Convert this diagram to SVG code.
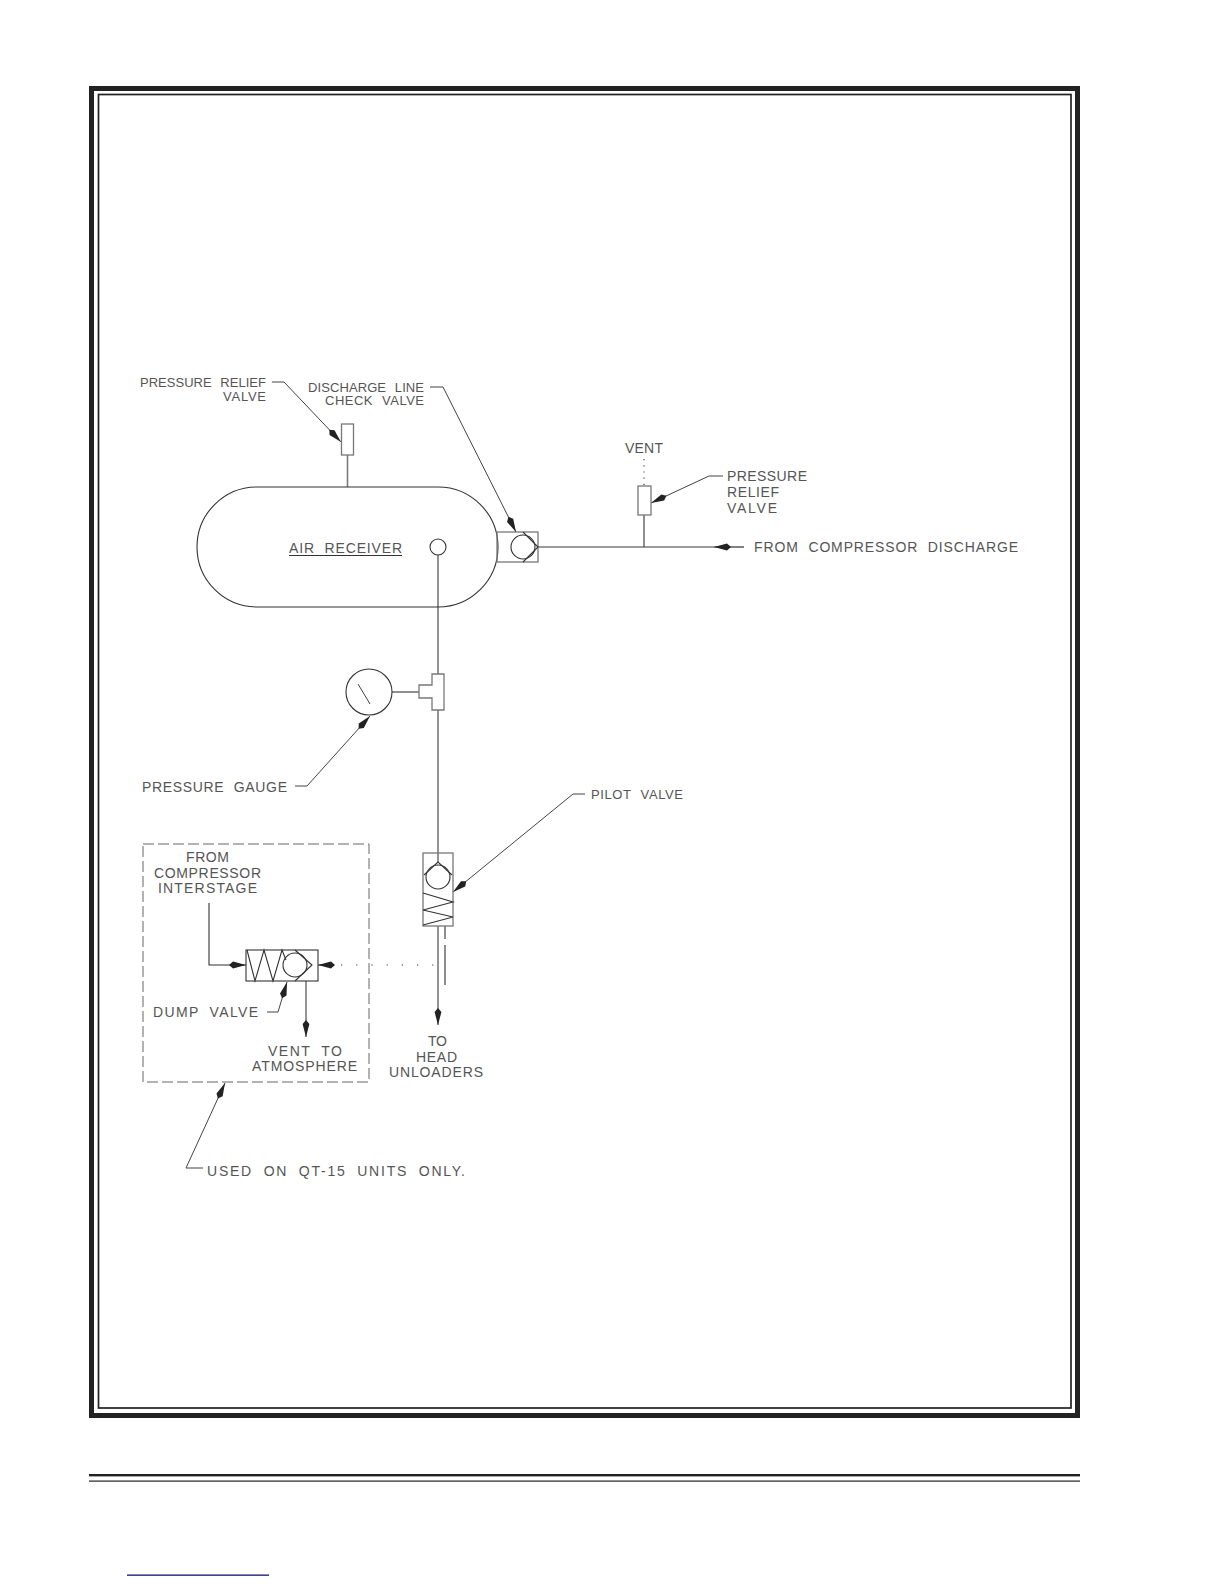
<svg xmlns="http://www.w3.org/2000/svg" width="1224" height="1584" viewBox="0 0 1224 1584">
<defs>
<marker id="arrow" markerUnits="userSpaceOnUse" markerWidth="20" markerHeight="12" refX="18" refY="6" orient="auto"><path d="M1,6 L5,2.6 L18,6 L5,9.4 Z" fill="#222"/></marker>
</defs>
<style>
text{font-family:"Liberation Sans",Arial,sans-serif;font-size:14px;fill:#555;font-weight:400;word-spacing:5px}
.s{font-size:13px}
.n{fill:none;stroke:#333;stroke-width:1.1}
.p{fill:none;stroke:#7a7a7a;stroke-width:1.6}
.v{fill:none;stroke:#777;stroke-width:1.3}
.l{fill:none;stroke:#444;stroke-width:1}
</style>
<rect width="1224" height="1584" fill="#fff"/>
<g id="frame">
<rect x="91.5" y="88.5" width="986" height="1327" fill="none" stroke="#222" stroke-width="5"/>
<rect x="98.5" y="94.5" width="972.5" height="1313.5" fill="none" stroke="#222" stroke-width="1.7"/>
<rect x="89" y="1474" width="991" height="2.4" fill="#222"/>
<rect x="89" y="1480.5" width="991" height="1.2" fill="#222"/>
<rect x="127" y="1574.5" width="142" height="1.3" fill="#12127a"/>
</g>
<g id="connectors">
<path class="p" d="M347.5,455V487"/>
<path class="p" d="M438,555V674M438,710V862M438,926V1025" marker-end="url(#arrow)"/>
<path class="p" d="M744,547H538"/>
<path class="p" d="M744,547H714" marker-end="url(#arrow)"/>
<path class="n" d="M644,515V547"/>
<path class="n" stroke-dasharray="1.2 5" d="M644,459V485"/>
<path class="n" d="M392,692H419"/>
<path class="n" d="M445,926V939M445,945V985"/>
<path class="n" d="M209,903V965H246" marker-end="url(#arrow)"/>
<path class="n" d="M333,965H318" marker-end="url(#arrow)"/>
<path class="n" stroke-dasharray="1.2 14" d="M341,965H438"/>
<path class="p" d="M306,981V1037" marker-end="url(#arrow)"/>
<path class="l" d="M272,382H284L341,442" marker-end="url(#arrow)"/>
<path class="l" d="M430,387H443L516,532" marker-end="url(#arrow)"/>
<path class="l" d="M723,476H709L651,503" marker-end="url(#arrow)"/>
<path class="l" d="M295,786H307L370,716" marker-end="url(#arrow)"/>
<path class="l" d="M585,794H573L453,892" marker-end="url(#arrow)"/>
<path class="l" d="M267,1012H278L287,982" marker-end="url(#arrow)"/>
<path class="l" d="M203,1168H186L225,1083" marker-end="url(#arrow)"/>
</g>
<g id="air-receiver">
<path class="n" d="M257,487H438A60,60 0 0 1 438,607H257A60,60 0 0 1 257,487Z"/>
<circle class="n" cx="438" cy="547" r="8"/>
<text x="289" y="552.5" textLength="113">AIR RECEIVER</text>
<path class="n" d="M289,555.5H402"/>
</g>
<g id="pressure-relief-valve-top">
<rect class="v" x="341.5" y="424" width="12" height="31"/>
<text class="s" x="140" y="387" textLength="126">PRESSURE RELIEF</text>
<text class="s" x="223" y="401" textLength="43">VALVE</text>
</g>
<g id="check-valve">
<rect class="v" x="497" y="532" width="41" height="30"/>
<circle class="n" cx="523" cy="547" r="12"/>
<path class="n" d="M523,532L538,547L523,562"/>
<text class="s" x="308" y="392" textLength="116">DISCHARGE LINE</text>
<text class="s" x="325" y="405" textLength="99">CHECK VALVE</text>
</g>
<g id="pressure-relief-valve-right">
<rect class="v" x="638" y="486" width="13" height="29"/>
<text x="625" y="453" textLength="38">VENT</text>
<text x="727" y="481" textLength="80">PRESSURE</text>
<text x="727" y="497" textLength="52">RELIEF</text>
<text x="727" y="513" textLength="50">VALVE</text>
</g>
<g id="discharge-label">
<text x="754" y="552" textLength="264">FROM COMPRESSOR DISCHARGE</text>
</g>
<g id="pressure-gauge">
<circle class="n" cx="369" cy="692" r="23"/>
<path class="l" d="M358,684L370,704"/>
<path class="v" d="M432,674H444V710H432V698H419V685H432Z"/>
<text x="142" y="792" textLength="145">PRESSURE GAUGE</text>
</g>
<g id="pilot-valve">
<rect class="v" x="423" y="853" width="30" height="73"/>
<circle class="n" cx="438" cy="877" r="12"/>
<path class="n" d="M424,875L438,862L452,875"/>
<path class="n" d="M423,893L453,902L423,910L453,917L423,925"/>
<text class="s" x="591" y="799" textLength="92">PILOT VALVE</text>
</g>
<g id="dump-valve">
<rect class="n" x="246" y="950" width="72" height="31"/>
<path class="n" d="M247,950L255,981L264,950L273,981L282,950L286,960"/>
<circle class="n" cx="295" cy="965" r="12"/>
<path class="n" d="M295,950L312,965L295,981"/>
<text x="153" y="1017" textLength="105">DUMP VALVE</text>
</g>
<g id="qt15-box">
<rect x="143" y="844" width="226" height="238" fill="none" stroke="#666" stroke-width="1" stroke-dasharray="11 4"/>
<text x="186" y="862" textLength="43">FROM</text>
<text x="154" y="878" textLength="107">COMPRESSOR</text>
<text x="158" y="893" textLength="99">INTERSTAGE</text>
<text x="268" y="1056" textLength="74">VENT TO</text>
<text x="252" y="1071" textLength="105">ATMOSPHERE</text>
<text x="207" y="1176" textLength="258">USED ON QT-15 UNITS ONLY.</text>
</g>
<g id="head-unloaders">
<text x="428" y="1046" textLength="19">TO</text>
<text x="416" y="1062" textLength="41">HEAD</text>
<text x="389" y="1077" textLength="94">UNLOADERS</text>
</g>
</svg>
